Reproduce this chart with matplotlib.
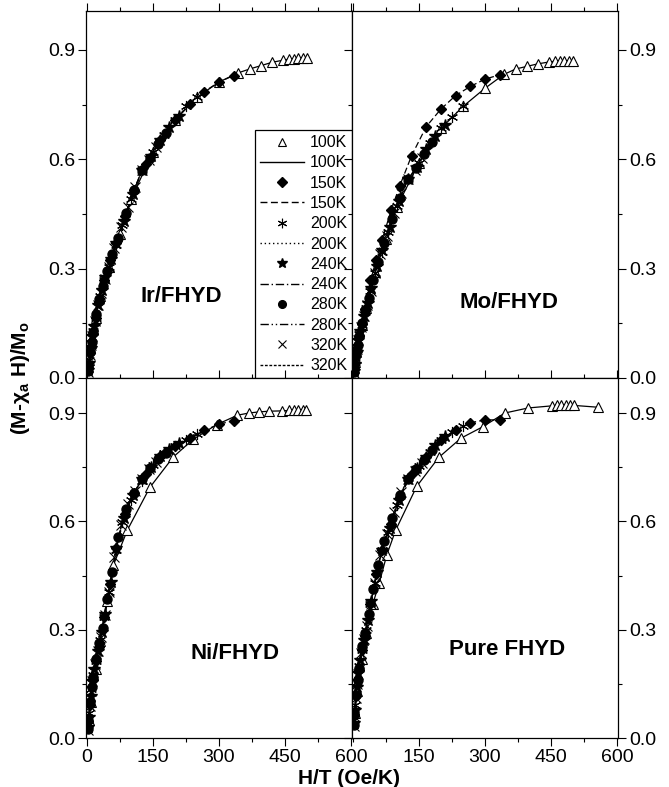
import matplotlib
matplotlib.use("Agg")
import matplotlib.pyplot as plt
from matplotlib.lines import Line2D
from matplotlib.ticker import MultipleLocator

plt.rcParams['font.family'] = ['Liberation Sans', 'DejaVu Sans']
plt.rcParams['mathtext.fontset'] = 'custom'
plt.rcParams['mathtext.rm'] = 'Liberation Sans'
plt.rcParams['mathtext.bf'] = 'Liberation Sans:bold'

# ---- data (H/T in Oe/K, reduced magnetisation) ----
temps = ['100K', '150K', '200K', '240K', '280K', '320K']
panel_names = ['Ir/FHYD', 'Mo/FHYD', 'Ni/FHYD', 'Pure FHYD']

x_150 = [3.3, 6.7, 13.3, 20, 26.7, 40, 53.3, 66.7, 86.7, 106.7, 133.3, 166.7, 200, 233.3, 266.7, 300, 333.3]
x_200 = [2.5, 5, 10, 15, 20, 30, 40, 50, 65, 80, 100, 125, 150, 175, 200, 225, 250]
x_240 = [2.1, 4.2, 8.3, 12.5, 16.7, 25, 33.3, 41.7, 54.2, 66.7, 83.3, 104.2, 125, 145.8, 166.7, 187.5, 208.3]
x_280 = [1.8, 3.6, 7.1, 10.7, 14.3, 21.4, 28.6, 35.7, 46.4, 57.1, 71.4, 89.3, 107.1, 125, 142.9, 160.7, 178.6]
x_320 = [1.6, 3.1, 6.3, 9.4, 12.5, 18.8, 25, 31.3, 40.6, 50, 62.5, 78.1, 93.8, 109.4, 125, 140.6, 156.3]

# Ir/FHYD
ir_x100 = [5, 10, 20, 30, 50, 75, 100, 150, 200, 250, 300, 343, 370, 395, 420, 445, 460, 470, 480, 490, 500]
ir_y100 = [0.05, 0.095, 0.165, 0.225, 0.305, 0.395, 0.49, 0.62, 0.707, 0.77, 0.812, 0.837, 0.848, 0.857, 0.866, 0.872, 0.875, 0.876, 0.877, 0.878, 0.878]
ir_y150 = [0.035, 0.068, 0.12, 0.165, 0.208, 0.27, 0.325, 0.37, 0.445, 0.515, 0.587, 0.653, 0.707, 0.752, 0.786, 0.812, 0.830]
ir_y200 = [0.025, 0.05, 0.095, 0.13, 0.165, 0.225, 0.27, 0.305, 0.365, 0.42, 0.49, 0.57, 0.62, 0.667, 0.707, 0.745, 0.77]
ir_y240 = [0.021, 0.042, 0.082, 0.115, 0.142, 0.2, 0.242, 0.277, 0.327, 0.37, 0.432, 0.505, 0.57, 0.61, 0.653, 0.688, 0.72]
ir_y280 = [0.018, 0.036, 0.07, 0.1, 0.126, 0.175, 0.218, 0.252, 0.293, 0.34, 0.384, 0.452, 0.515, 0.57, 0.603, 0.641, 0.672]
ir_y320 = [0.016, 0.031, 0.063, 0.09, 0.115, 0.157, 0.2, 0.232, 0.273, 0.305, 0.357, 0.413, 0.468, 0.523, 0.57, 0.598, 0.633]

# Mo/FHYD
mo_x100 = [5, 10, 20, 30, 50, 75, 100, 150, 200, 250, 300, 343, 370, 395, 420, 445, 460, 470, 480, 490, 500]
mo_y100 = [0.045, 0.085, 0.145, 0.193, 0.29, 0.382, 0.47, 0.59, 0.685, 0.745, 0.795, 0.833, 0.848, 0.855, 0.862, 0.867, 0.869, 0.87, 0.87, 0.871, 0.871]
mo_y150 = [0.04, 0.08, 0.115, 0.148, 0.19, 0.268, 0.325, 0.38, 0.46, 0.528, 0.61, 0.69, 0.738, 0.775, 0.8, 0.82, 0.832]
mo_y200 = [0.022, 0.045, 0.085, 0.12, 0.145, 0.193, 0.24, 0.288, 0.347, 0.4, 0.473, 0.545, 0.59, 0.644, 0.685, 0.716, 0.745]
mo_y240 = [0.019, 0.038, 0.072, 0.105, 0.13, 0.17, 0.207, 0.247, 0.306, 0.352, 0.415, 0.487, 0.545, 0.58, 0.627, 0.665, 0.693]
mo_y280 = [0.016, 0.032, 0.062, 0.09, 0.115, 0.152, 0.187, 0.22, 0.27, 0.318, 0.37, 0.435, 0.495, 0.545, 0.575, 0.614, 0.647]
mo_y320 = [0.014, 0.028, 0.055, 0.08, 0.105, 0.14, 0.17, 0.2, 0.24, 0.288, 0.34, 0.39, 0.453, 0.507, 0.545, 0.57, 0.603]

# Ni/FHYD
ni_x100 = [5, 10, 20, 30, 45, 60, 92, 143, 196, 241, 295, 342, 368, 390, 413, 444, 458, 470, 480, 490, 497]
ni_y100 = [0.05, 0.1, 0.19, 0.27, 0.38, 0.478, 0.576, 0.694, 0.778, 0.827, 0.868, 0.894, 0.9, 0.903, 0.905, 0.906, 0.907, 0.907, 0.907, 0.907, 0.907]
ni_y150 = [0.046, 0.092, 0.162, 0.212, 0.252, 0.335, 0.426, 0.525, 0.62, 0.678, 0.731, 0.781, 0.81, 0.832, 0.852, 0.869, 0.879]
ni_y200 = [0.035, 0.07, 0.135, 0.175, 0.212, 0.272, 0.335, 0.405, 0.52, 0.597, 0.66, 0.713, 0.755, 0.789, 0.81, 0.826, 0.842]
ni_y240 = [0.03, 0.059, 0.115, 0.158, 0.19, 0.242, 0.293, 0.343, 0.432, 0.527, 0.61, 0.673, 0.716, 0.751, 0.781, 0.8, 0.817]
ni_y280 = [0.025, 0.05, 0.099, 0.14, 0.17, 0.218, 0.263, 0.306, 0.385, 0.46, 0.556, 0.635, 0.678, 0.716, 0.748, 0.774, 0.79]
ni_y320 = [0.022, 0.043, 0.088, 0.13, 0.158, 0.205, 0.24, 0.281, 0.34, 0.404, 0.5, 0.59, 0.648, 0.685, 0.716, 0.744, 0.765]

# Pure FHYD
pu_x100 = [5, 10, 20, 30, 45, 60, 77, 97, 145, 195, 245, 295, 345, 398, 453, 463, 473, 483, 493, 503, 557]
pu_y100 = [0.07, 0.13, 0.22, 0.29, 0.37, 0.43, 0.507, 0.575, 0.697, 0.777, 0.83, 0.862, 0.9, 0.914, 0.92, 0.921, 0.921, 0.921, 0.921, 0.921, 0.916]
pu_y150 = [0.063, 0.115, 0.188, 0.245, 0.282, 0.37, 0.455, 0.52, 0.592, 0.668, 0.73, 0.777, 0.825, 0.853, 0.873, 0.881, 0.881]
pu_y200 = [0.049, 0.092, 0.155, 0.2, 0.245, 0.3, 0.37, 0.43, 0.52, 0.571, 0.645, 0.72, 0.754, 0.793, 0.825, 0.848, 0.865]
pu_y240 = [0.041, 0.078, 0.14, 0.181, 0.215, 0.272, 0.328, 0.38, 0.46, 0.52, 0.582, 0.66, 0.716, 0.749, 0.778, 0.812, 0.835]
pu_y280 = [0.036, 0.068, 0.12, 0.16, 0.194, 0.254, 0.292, 0.343, 0.412, 0.478, 0.545, 0.61, 0.672, 0.716, 0.745, 0.77, 0.798]
pu_y320 = [0.032, 0.06, 0.11, 0.15, 0.178, 0.236, 0.274, 0.31, 0.372, 0.428, 0.508, 0.565, 0.625, 0.68, 0.716, 0.74, 0.762]

# label positions (data coords) for the sample names
label_x = [215, 354, 337, 351]
label_y = [0.223, 0.206, 0.235, 0.244]

# ---- styles per temperature ----
mstyle = [
    dict(marker='^', mfc='white', mec='black', ms=7.5, mew=0.8),
    dict(marker='D', mfc='black', mec='black', ms=5.5),
    dict(marker=(6, 2, 0), mfc='black', mec='black', ms=8, mew=0.8),
    dict(marker='*', mfc='black', mec='black', ms=9),
    dict(marker='o', mfc='black', mec='black', ms=6.5),
    dict(marker='x', mfc='black', mec='black', ms=6.5, mew=0.8),
]
lstyle = ['-', (0, (5, 2.5)), (0, (1, 2)), (0, (6, 2, 1, 2)), (0, (6, 2, 1, 2, 1, 2)), (0, (2, 1.2))]

xs_other = [x_150, x_200, x_240, x_280, x_320]
panels = [
    (ir_x100, [ir_y100, ir_y150, ir_y200, ir_y240, ir_y280, ir_y320]),
    (mo_x100, [mo_y100, mo_y150, mo_y200, mo_y240, mo_y280, mo_y320]),
    (ni_x100, [ni_y100, ni_y150, ni_y200, ni_y240, ni_y280, ni_y320]),
    (pu_x100, [pu_y100, pu_y150, pu_y200, pu_y240, pu_y280, pu_y320]),
]

fig = plt.figure(figsize=(6.69, 7.87), dpi=100)
gs = fig.add_gridspec(2, 2, left=86/669, right=618/669, top=1-11/787, bottom=1-738/787,
                      hspace=0, wspace=0, height_ratios=[367, 360])

for k, (x100, ys) in enumerate(panels):
    r, c = divmod(k, 2)
    ax = fig.add_subplot(gs[r, c])
    xlists = [x100] + xs_other
    for i in range(6):
        ax.plot(xlists[i], ys[i], color='black', lw=0.9, ls=lstyle[i], zorder=2)
        ax.plot(xlists[i], ys[i], ls='none', zorder=3 + i, **mstyle[i])
    ax.set_xlim(-2, 602)
    ax.set_ylim(0, 1.007 if r == 0 else 0.997)
    ax.xaxis.set_major_locator(MultipleLocator(150))
    ax.xaxis.set_minor_locator(MultipleLocator(75))
    ax.yaxis.set_major_locator(MultipleLocator(0.3))
    ax.yaxis.set_minor_locator(MultipleLocator(0.15))
    ax.yaxis.set_major_formatter(plt.FormatStrFormatter('%.1f'))
    ax.tick_params(which='both', direction='out', top=True, bottom=True, left=True, right=True,
                   width=0.8, labelsize=14, pad=2)
    ax.tick_params(which='major', length=6)
    ax.tick_params(which='minor', length=3)
    ax.tick_params(labelbottom=(r == 1), labelleft=(c == 0), labelright=(c == 1))
    for sp in ax.spines.values():
        sp.set_linewidth(0.9)
    if r == 1 and c == 1:
        ax.set_xticks([150, 300, 450, 600])
    ax.text(label_x[k], label_y[k], panel_names[k], ha='center', va='center',
            fontsize=16, fontweight='bold')

    if k == 0:
        handles, labels = [], []
        for i, t in enumerate(temps):
            handles.append(Line2D([], [], ls='none', **mstyle[i]))
            labels.append(t)
            handles.append(Line2D([], [], color='black', lw=1, ls=lstyle[i]))
            labels.append(t)
        leg = ax.legend(handles, labels, loc='lower right', borderaxespad=0, fontsize=11.5,
                        frameon=True, fancybox=False, framealpha=1, edgecolor='black',
                        handlelength=2.8, handletextpad=0.35, labelspacing=0.33,
                        borderpad=0.3, markerscale=0.85)
        leg.get_frame().set_linewidth(0.9)
        leg.set_zorder(20)

fig.text(0.03, 0.52, '(M-χ$_\\mathbf{a}$ H)/M$_\\mathbf{o}$', rotation=90, ha='center', va='center',
         fontsize=15, fontweight='bold')
fig.text(0.522, 0.011, 'H/T (Oe/K)', ha='center', va='center', fontsize=15, fontweight='bold')

fig.savefig('out.png', dpi=100)
